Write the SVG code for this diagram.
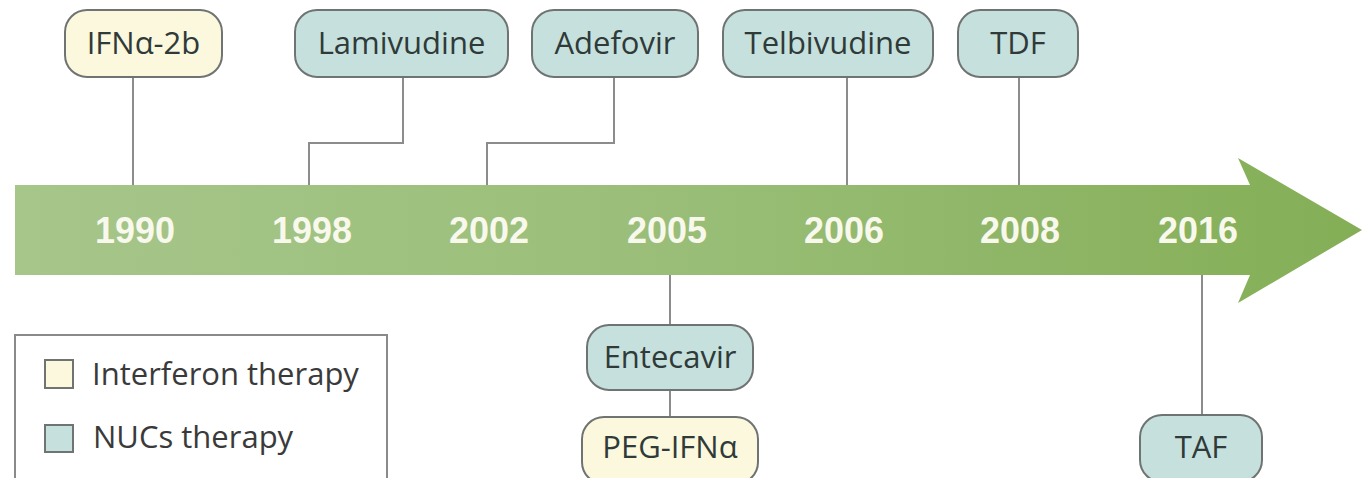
<svg xmlns="http://www.w3.org/2000/svg" width="1362" height="478" viewBox="0 0 1362 478">
  <defs>
    <linearGradient id="arrowGrad" x1="0" y1="0" x2="1" y2="0">
      <stop offset="0" stop-color="#a6c68a"/>
      <stop offset="0.45" stop-color="#9bbf7a"/>
      <stop offset="1" stop-color="#84ae56"/>
    </linearGradient>
  </defs>
  <style>
    .nuc { fill: #c6e1dd; stroke: #6f7472; stroke-width: 2; }
    .ifn { fill: #fbf8dd; stroke: #6f7472; stroke-width: 2; }
    .lbl { font-family: "Open Sans", "Liberation Sans", sans-serif; font-size: 31px; fill: #2f3a39; text-anchor: middle; }
    .year { font-family: "Liberation Sans", Arial, sans-serif; font-weight: bold; font-size: 37px; fill: #f8f8ec; text-anchor: middle; }
    .conn { fill: none; stroke: #8c8c8c; stroke-width: 2; }
    .leg { font-family: "Open Sans", "Liberation Sans", sans-serif; font-size: 31px; fill: #3a3a3a; }
  </style>
  <rect width="1362" height="478" fill="#ffffff"/>

  <g id="timeline">
    <path d="M15,185 L1250,185 L1238,158 L1362,230 L1238,303 L1250,275 L15,275 Z" fill="url(#arrowGrad)"/>
    <text class="year" x="135" y="243" textLength="80" lengthAdjust="spacingAndGlyphs">1990</text>
    <text class="year" x="312" y="243" textLength="80" lengthAdjust="spacingAndGlyphs">1998</text>
    <text class="year" x="489" y="243" textLength="80" lengthAdjust="spacingAndGlyphs">2002</text>
    <text class="year" x="667" y="243" textLength="80" lengthAdjust="spacingAndGlyphs">2005</text>
    <text class="year" x="844" y="243" textLength="80" lengthAdjust="spacingAndGlyphs">2006</text>
    <text class="year" x="1020" y="243" textLength="80" lengthAdjust="spacingAndGlyphs">2008</text>
    <text class="year" x="1198" y="243" textLength="80" lengthAdjust="spacingAndGlyphs">2016</text>
  </g>

  <g id="connectors">
    <path class="conn" d="M133,77 V185"/>
    <path class="conn" d="M403,77 V143 H309 V185"/>
    <path class="conn" d="M614,77 V143 H487 V185"/>
    <path class="conn" d="M847,77 V185"/>
    <path class="conn" d="M1019,77 V185"/>
    <path class="conn" d="M670,275 V325"/>
    <path class="conn" d="M670,390 V417"/>
    <path class="conn" d="M1202,275 V415"/>
  </g>

  <g id="node-ifna2b">
    <rect class="ifn" x="65" y="10" width="157" height="67" rx="22"/>
    <text class="lbl" x="143.5" y="54">IFNα-2b</text>
  </g>
  <g id="node-lamivudine">
    <rect class="nuc" x="295" y="10" width="213" height="67" rx="22"/>
    <text class="lbl" x="401.5" y="54">Lamivudine</text>
  </g>
  <g id="node-adefovir">
    <rect class="nuc" x="532" y="10" width="166" height="67" rx="22"/>
    <text class="lbl" x="615" y="54">Adefovir</text>
  </g>
  <g id="node-telbivudine">
    <rect class="nuc" x="723" y="10" width="210" height="67" rx="22"/>
    <text class="lbl" x="828" y="54">Telbivudine</text>
  </g>
  <g id="node-tdf">
    <rect class="nuc" x="958" y="10" width="120" height="67" rx="22"/>
    <text class="lbl" x="1018" y="54">TDF</text>
  </g>
  <g id="node-entecavir">
    <rect class="nuc" x="587" y="325" width="166" height="65" rx="22"/>
    <text class="lbl" x="670" y="368">Entecavir</text>
  </g>
  <g id="node-pegifna">
    <rect class="ifn" x="582" y="417" width="176" height="67" rx="22"/>
    <text class="lbl" x="670" y="458">PEG-IFNα</text>
  </g>
  <g id="node-taf">
    <rect class="nuc" x="1140" y="415" width="122" height="67" rx="22"/>
    <text class="lbl" x="1201" y="458">TAF</text>
  </g>

  <g id="legend">
    <rect x="15" y="335" width="372" height="160" fill="#ffffff" stroke="#8a8a8a" stroke-width="2"/>
    <rect class="ifn" x="45" y="360" width="28" height="28" stroke-width="1.5"/>
    <text class="leg" x="92" y="385">Interferon therapy</text>
    <rect class="nuc" x="45" y="425" width="28" height="27" stroke-width="1.5"/>
    <text class="leg" x="93" y="448">NUCs therapy</text>
  </g>
</svg>
